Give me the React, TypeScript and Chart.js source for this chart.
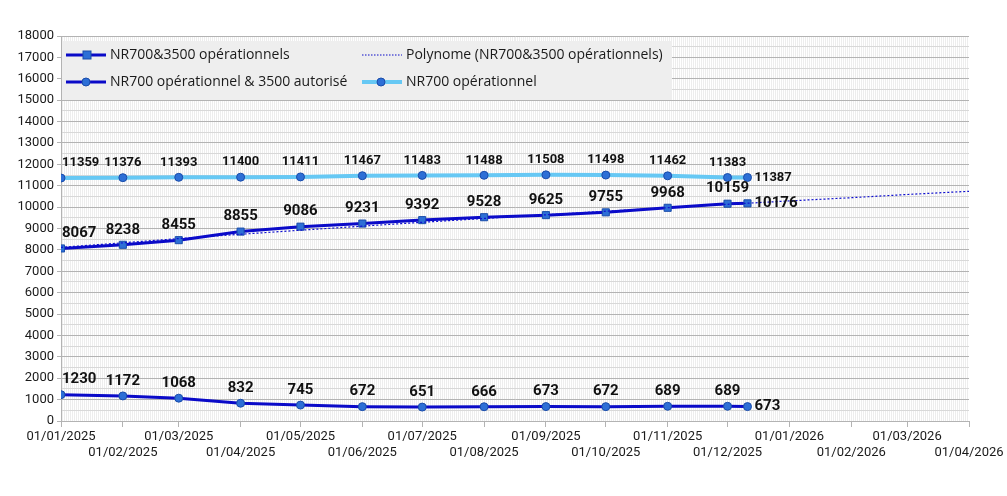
import React, { useEffect, useRef } from "react";
import { Chart, registerables } from "chart.js";

Chart.register(...registerables);

// month ticks on the x axis
const tickDates = [
  "2025-01-01", "2025-02-01", "2025-03-01", "2025-04-01", "2025-05-01", "2025-06-01",
  "2025-07-01", "2025-08-01", "2025-09-01", "2025-10-01", "2025-11-01", "2025-12-01",
  "2026-01-01", "2026-02-01", "2026-03-01", "2026-04-01",
];
const tickLabels = [
  "01/01/2025", "01/02/2025", "01/03/2025", "01/04/2025", "01/05/2025", "01/06/2025",
  "01/07/2025", "01/08/2025", "01/09/2025", "01/10/2025", "01/11/2025", "01/12/2025",
  "01/01/2026", "01/02/2026", "01/03/2026", "01/04/2026",
];

// measurement dates
const pointDates = [
  "2025-01-01", "2025-02-01", "2025-03-01", "2025-04-01", "2025-05-01", "2025-06-01",
  "2025-07-01", "2025-08-01", "2025-09-01", "2025-10-01", "2025-11-01", "2025-12-01",
  "2025-12-11",
];
const nr700And3500 = [8067, 8238, 8455, 8855, 9086, 9231, 9392, 9528, 9625, 9755, 9968, 10159, 10176];
const nr700Op3500Aut = [1230, 1172, 1068, 832, 745, 672, 651, 666, 673, 672, 689, 689, 673];
const nr700Op = [11359, 11376, 11393, 11400, 11411, 11467, 11483, 11488, 11508, 11498, 11462, 11383, 11387];

// trend line
const trendDates = tickDates;
const trendValues = [8120, 8330, 8530, 8730, 8920, 9110, 9290, 9470, 9640, 9810, 9970, 10130, 10290, 10440, 10590, 10740];

const seriesNames = [
  "NR700&3500 opérationnels",
  "Polynome (NR700&3500 opérationnels)",
  "NR700 opérationnel & 3500 autorisé",
  "NR700 opérationnel",
];

const DARK = "#0a0ac8";
const LIGHT = "#66c8f4";
const MARK = "#2d6fd6";
const MARK_EDGE = "#1a4caa";

const dayOf = (s: string) => (Date.parse(s) - Date.parse("2025-01-01")) / 86400000;
const toPoints = (dates: string[], vals: number[]) => vals.map((v, i) => ({ x: dayOf(dates[i]), y: v }));

const labelPlugin = {
  id: "pointLabels",
  afterDatasetsDraw(chart: any) {
    const ctx = chart.ctx;
    chart.data.datasets.forEach((ds: any, di: number) => {
      if (!ds.showLabels) return;
      const meta = chart.getDatasetMeta(di);
      ctx.save();
      ctx.fillStyle = "#111";
      ctx.font = `bold ${ds.labelSize}px Roboto`;
      ctx.textBaseline = "middle";
      meta.data.forEach((pt: any, i: number) => {
        const v = String(ds.data[i].y);
        const last = i === meta.data.length - 1;
        if (last) {
          ctx.textAlign = "left";
          ctx.fillText(v, pt.x + 7, pt.y);
        } else if (i === 0) {
          ctx.textAlign = "left";
          ctx.fillText(v, pt.x + 1, pt.y - 15);
        } else {
          ctx.textAlign = "center";
          ctx.fillText(v, pt.x, pt.y - 15);
        }
      });
      ctx.restore();
    });
  },
};

const legendPlugin = {
  id: "boxLegend",
  afterDraw(chart: any) {
    const ctx = chart.ctx;
    const left = chart.chartArea.left;
    ctx.save();
    ctx.fillStyle = "#eeeeee";
    ctx.fillRect(left + 1, 41, 672 - left - 1, 59);

    const drawBall = (x: number, y: number) => {
      ctx.beginPath();
      ctx.arc(x, y, 4, 0, Math.PI * 2);
      ctx.fillStyle = MARK;
      ctx.fill();
      ctx.strokeStyle = MARK_EDGE;
      ctx.lineWidth = 1;
      ctx.stroke();
    };
    const drawLine = (x: number, y: number, color: string, w: number, dash: number[]) => {
      ctx.beginPath();
      ctx.setLineDash(dash);
      ctx.strokeStyle = color;
      ctx.lineWidth = w;
      ctx.moveTo(x, y);
      ctx.lineTo(x + 40, y);
      ctx.stroke();
      ctx.setLineDash([]);
    };

    const r1 = 55;
    const r2 = 82;
    drawLine(66, r1, DARK, 3, []);
    ctx.fillStyle = MARK;
    ctx.fillRect(83, r1 - 4, 8, 8);
    ctx.strokeStyle = MARK_EDGE;
    ctx.lineWidth = 1;
    ctx.strokeRect(83, r1 - 4, 8, 8);
    drawLine(66, r2, DARK, 3, []);
    drawBall(86, r2);
    drawLine(362, r1, DARK, 1, [1.5, 1.5]);
    drawLine(362, r2, LIGHT, 4, []);
    drawBall(381, r2);

    ctx.fillStyle = "#1a1a1a";
    ctx.font = "14px 'Open Sans'";
    ctx.textAlign = "left";
    ctx.textBaseline = "middle";
    ctx.fillText(seriesNames[0], 110, r1);
    ctx.fillText(seriesNames[2], 110, r2);
    ctx.fillText(seriesNames[1], 406, r1);
    ctx.fillText(seriesNames[3], 406, r2);
    ctx.restore();
  },
};

const App: React.FC = () => {
  const canvasRef = useRef<HTMLCanvasElement | null>(null);

  useEffect(() => {
    if (!canvasRef.current) return;
    const xMax = dayOf(tickDates[tickDates.length - 1]);
    const monthTicks = tickDates.map(dayOf);

    const chart = new Chart(canvasRef.current, {
      type: "line",
      data: {
        datasets: [
          {
            label: seriesNames[3],
            data: toPoints(pointDates, nr700Op),
            borderColor: LIGHT,
            borderWidth: 4,
            pointStyle: "circle",
            pointRadius: 4,
            pointBackgroundColor: MARK,
            pointBorderColor: MARK_EDGE,
            pointBorderWidth: 1,
            showLabels: true,
            labelSize: 13,
          } as any,
          {
            label: seriesNames[2],
            data: toPoints(pointDates, nr700Op3500Aut),
            borderColor: DARK,
            borderWidth: 3,
            pointStyle: "circle",
            pointRadius: 4,
            pointBackgroundColor: MARK,
            pointBorderColor: MARK_EDGE,
            pointBorderWidth: 1,
            showLabels: true,
            labelSize: 15,
          } as any,
          {
            label: seriesNames[1],
            data: toPoints(trendDates, trendValues),
            borderColor: "#1010d0",
            borderWidth: 1.2,
            borderDash: [2, 2],
            pointRadius: 0,
          },
          {
            label: seriesNames[0],
            data: toPoints(pointDates, nr700And3500),
            borderColor: DARK,
            borderWidth: 3,
            pointStyle: "rect",
            pointRadius: 5,
            pointBackgroundColor: MARK,
            pointBorderColor: MARK_EDGE,
            pointBorderWidth: 1,
            showLabels: true,
            labelSize: 15,
          } as any,
        ],
      },
      options: {
        animation: false,
        responsive: true,
        maintainAspectRatio: false,
        layout: { padding: { top: 36, right: 38, left: 0, bottom: 0 } },
        plugins: { legend: { display: false }, tooltip: { enabled: false } },
        scales: {
          x: {
            type: "linear",
            min: 0,
            max: xMax,
            afterBuildTicks: (scale: any) => {
              scale.ticks = monthTicks.map((v) => ({ value: v }));
            },
            afterFit: (scale: any) => {
              scale.height = 75;
            },
            grid: { drawOnChartArea: false, drawTicks: true, tickLength: 6, color: "#b3b3b3" },
            border: { color: "#b3b3b3" },
            ticks: {
              autoSkip: false,
              maxRotation: 0,
              padding: 2,
              color: "#1a1a1a",
              font: { family: "Roboto", size: 13 },
              callback: (_v: any, i: number) => (i % 2 === 0 ? tickLabels[i] : ["", tickLabels[i]]),
            },
          },
          xDays: {
            type: "linear",
            position: "top",
            min: 0,
            max: xMax,
            z: -1,
            afterBuildTicks: (scale: any) => {
              const t = [];
              for (let d = 1; d < xMax; d++) t.push({ value: d });
              scale.ticks = t;
            },
            afterFit: (scale: any) => {
              scale.height = 0;
            },
            grid: { color: "#ededed", drawTicks: false },
            border: { display: false },
            ticks: { display: false },
          },
          y: {
            min: 0,
            max: 18000,
            afterBuildTicks: (scale: any) => {
              const t = [];
              for (let v = 0; v <= 18000; v += 1000) t.push({ value: v });
              scale.ticks = t;
            },
            afterFit: (scale: any) => {
              scale.width = 61;
            },
            grid: { color: "#b3b3b3", tickLength: 4 },
            border: { color: "#b3b3b3" },
            ticks: {
              padding: 3,
              color: "#1a1a1a",
              font: { family: "Roboto", size: 13 },
              callback: (v: any) => String(v),
            },
          },
          yMinor: {
            position: "right",
            min: 0,
            max: 18000,
            z: -1,
            afterBuildTicks: (scale: any) => {
              const t = [];
              for (let v = 500; v < 18000; v += 1000) t.push({ value: v });
              scale.ticks = t;
            },
            afterFit: (scale: any) => {
              scale.width = 0;
            },
            grid: { color: "#d8d8d8", drawTicks: false },
            border: { display: false },
            ticks: { display: false },
          },
        },
      } as any,
      plugins: [labelPlugin, legendPlugin],
    });

    return () => {
      chart.destroy();
    };
  }, []);

  return (
    <div style={{ position: "absolute", left: 0, top: 0, width: 1007, height: 496, background: "#fff" }}>
      <canvas ref={canvasRef}></canvas>
    </div>
  );
};

export default App;
